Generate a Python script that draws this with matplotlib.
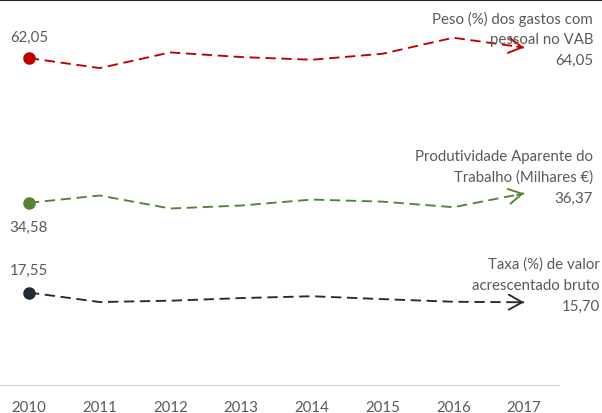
import matplotlib.pyplot as plt

plt.rcParams['font.family'] = ['Lato', 'DejaVu Sans']

years = ['2010', '2011', '2012', '2013', '2014', '2015', '2016', '2017']

peso_gastos = [62.05, 60.16, 63.13, 62.25, 61.74, 62.88, 65.92, 64.05]
produtividade = [34.58, 35.97, 33.50, 34.07, 35.20, 34.80, 33.75, 36.37]
taxa_vab = [17.55, 15.75, 16.00, 16.50, 16.85, 16.30, 15.80, 15.70]

names = ['Peso (%) dos gastos com\npessoal no VAB',
         'Produtividade Aparente do\nTrabalho (Milhares €)',
         'Taxa (%) de valor\nacrescentado bruto']
colors = ['#c00000', '#548235', '#222a35']
text_grey = '#595959'

fig = plt.figure(figsize=(6.02, 4.14), dpi=100)
ax = fig.add_axes([-6.4 / 602, 28 / 414, 565.8 / 602, 383 / 414])

x = list(range(len(years)))
series = [peso_gastos, produtividade, taxa_vab]
# offsets (points) of the first value label relative to the start dot
first_offsets = [15.5, -17, 16.5]
# vertical position (figure pixels from top) of the first name line
name_tops = [19, 157, 265]
name_right = [593, 593, 600]

for vals, col, off, name, top, right in zip(series, colors, first_offsets,
                                            names, name_tops, name_right):
    ax.plot(x, vals, color=col, lw=1.35, linestyle=(0, (5.5, 3)),
            solid_capstyle='butt', dash_capstyle='butt')
    ax.plot(x[0], vals[0], 'o', color=col, markersize=8)
    # open arrow head at the last point
    sx = x[-2] + 0.9 * (x[-1] - x[-2])
    sy = vals[-2] + 0.9 * (vals[-1] - vals[-2])
    ax.annotate('', xy=(x[-1], vals[-1]), xytext=(sx, sy),
                arrowprops=dict(arrowstyle='->,head_length=0.8,head_width=0.45',
                                color=col, lw=1.35, mutation_scale=12,
                                shrinkA=0, shrinkB=0))
    ax.annotate(f'{vals[0]:.2f}'.replace('.', ','), xy=(x[0], vals[0]),
                xytext=(0, off), textcoords='offset points',
                ha='center', va='center', fontsize=10.8, color=text_grey)
    line1, line2 = name.split('\n')
    for i, t in enumerate([line1, line2, f'{vals[-1]:.2f}'.replace('.', ',')]):
        fig.text(right / 602, 1 - (top + 21 * i) / 414, t, ha='right',
                 va='center', fontsize=10.8, color=text_grey)

ax.set_xlim(-0.5, 7.5)
ax.set_ylim(0, 72.7)
ax.set_xticks(x)
ax.set_xticklabels(years)
ax.set_yticks([])
ax.tick_params(axis='x', length=0, pad=11, labelsize=10.8, labelcolor=text_grey)
for s in ['top', 'left', 'right']:
    ax.spines[s].set_visible(False)
ax.spines['bottom'].set_color('#d9d9d9')
ax.spines['bottom'].set_linewidth(0.9)
ax.patch.set_alpha(0)

# thin dark border along the top edge of the image
fig.add_artist(plt.Line2D([0, 1], [1 - 1 / 414, 1 - 1 / 414], color='#1f2430',
                          lw=1.5, transform=fig.transFigure))

fig.savefig('out.png', dpi=100)
